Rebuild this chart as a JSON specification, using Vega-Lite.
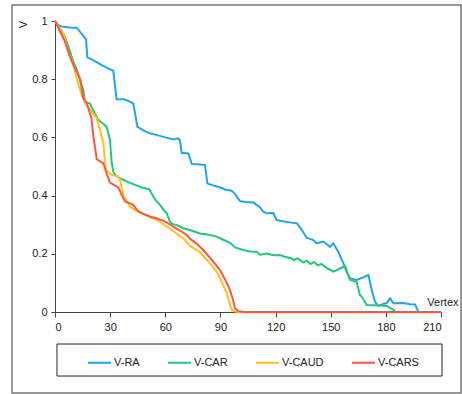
{
  "$schema": "https://vega.github.io/schema/vega-lite/v6.json",
  "width": 386,
  "height": 291,
  "autosize": "none",
  "padding": {"left": 55, "top": 21, "right": 21, "bottom": 82},
  "background": "white",
  "config": {
    "view": {"stroke": null},
    "font": "Liberation Sans",
    "axis": {"labelFont": "Liberation Sans", "titleFont": "Liberation Sans", "labelFontSize": 11, "labelColor": "#222", "domainColor": "#444", "tickColor": "#444", "grid": false}
  },
  "layer": [
    {
      "data": {"values": [{}]},
      "mark": {"type": "rect", "fillOpacity": 0, "stroke": "#777", "strokeWidth": 1.5, "clip": false},
      "encoding": {
        "x": {"datum": -23.4, "type": "quantitative", "scale": {"domain": [0, 210], "nice": false}},
        "x2": {"datum": 220.9},
        "y": {"datum": 1.055, "type": "quantitative", "scale": {"domain": [0, 1], "nice": false}},
        "y2": {"datum": -0.278}
      }
    },
    {
      "data": {"values": [{}]},
      "mark": {"type": "rect", "fillOpacity": 0, "stroke": "#222", "strokeWidth": 1, "clip": false},
      "encoding": {
        "x": {"datum": 1.09, "type": "quantitative"},
        "x2": {"datum": 210.55},
        "y": {"datum": -0.110, "type": "quantitative"},
        "y2": {"datum": -0.220}
      }
    },
    {
      "data": {"values": [
        {"s":"V-RA","x":0,"y":1},{"s":"V-RA","x":2,"y":0.985},{"s":"V-RA","x":3.6,"y":0.981},{"s":"V-RA","x":8,"y":0.978},{"s":"V-RA","x":11.8,"y":0.977},{"s":"V-RA","x":14,"y":0.96},{"s":"V-RA","x":16.9,"y":0.937},{"s":"V-RA","x":17.6,"y":0.875},{"s":"V-RA","x":20,"y":0.868},{"s":"V-RA","x":24.5,"y":0.852},{"s":"V-RA","x":28,"y":0.84},{"s":"V-RA","x":31.7,"y":0.829},{"s":"V-RA","x":33.5,"y":0.731},{"s":"V-RA","x":37.5,"y":0.731},{"s":"V-RA","x":40,"y":0.725},{"s":"V-RA","x":42.6,"y":0.717},{"s":"V-RA","x":44.8,"y":0.637},{"s":"V-RA","x":48,"y":0.624},{"s":"V-RA","x":51.7,"y":0.614},{"s":"V-RA","x":56,"y":0.607},{"s":"V-RA","x":60,"y":0.6},{"s":"V-RA","x":64.4,"y":0.593},{"s":"V-RA","x":67.1,"y":0.597},{"s":"V-RA","x":68,"y":0.59},{"s":"V-RA","x":68.9,"y":0.547},{"s":"V-RA","x":72.5,"y":0.545},{"s":"V-RA","x":74.4,"y":0.509},{"s":"V-RA","x":78,"y":0.508},{"s":"V-RA","x":81.6,"y":0.505},{"s":"V-RA","x":82.9,"y":0.442},{"s":"V-RA","x":86,"y":0.435},{"s":"V-RA","x":89.8,"y":0.428},{"s":"V-RA","x":93,"y":0.42},{"s":"V-RA","x":96.1,"y":0.417},{"s":"V-RA","x":98,"y":0.405},{"s":"V-RA","x":100.7,"y":0.381},{"s":"V-RA","x":104,"y":0.378},{"s":"V-RA","x":107.9,"y":0.376},{"s":"V-RA","x":111.5,"y":0.36},{"s":"V-RA","x":113.3,"y":0.345},{"s":"V-RA","x":115.2,"y":0.339},{"s":"V-RA","x":118.8,"y":0.34},{"s":"V-RA","x":120.6,"y":0.316},{"s":"V-RA","x":124,"y":0.312},{"s":"V-RA","x":127.9,"y":0.308},{"s":"V-RA","x":131.5,"y":0.305},{"s":"V-RA","x":134,"y":0.285},{"s":"V-RA","x":136.9,"y":0.255},{"s":"V-RA","x":140.5,"y":0.247},{"s":"V-RA","x":142.4,"y":0.236},{"s":"V-RA","x":146,"y":0.242},{"s":"V-RA","x":149.6,"y":0.224},{"s":"V-RA","x":151.4,"y":0.236},{"s":"V-RA","x":154.1,"y":0.207},{"s":"V-RA","x":156.9,"y":0.167},{"s":"V-RA","x":158.5,"y":0.14},{"s":"V-RA","x":160.5,"y":0.116},{"s":"V-RA","x":164.1,"y":0.11},{"s":"V-RA","x":167.7,"y":0.119},{"s":"V-RA","x":170.5,"y":0.127},{"s":"V-RA","x":172.3,"y":0.076},{"s":"V-RA","x":174.1,"y":0.035},{"s":"V-RA","x":175.9,"y":0.021},{"s":"V-RA","x":178.6,"y":0.028},{"s":"V-RA","x":180.4,"y":0.03},{"s":"V-RA","x":182.3,"y":0.047},{"s":"V-RA","x":184.1,"y":0.03},{"s":"V-RA","x":189.5,"y":0.031},{"s":"V-RA","x":193.1,"y":0.027},{"s":"V-RA","x":195.9,"y":0.026},{"s":"V-RA","x":197.7,"y":0.0},

        {"s":"V-CAR","x":0,"y":1},{"s":"V-CAR","x":2,"y":0.98},{"s":"V-CAR","x":4.5,"y":0.958},{"s":"V-CAR","x":7.3,"y":0.912},{"s":"V-CAR","x":10,"y":0.86},{"s":"V-CAR","x":12,"y":0.83},{"s":"V-CAR","x":14,"y":0.79},{"s":"V-CAR","x":15.4,"y":0.763},{"s":"V-CAR","x":16.3,"y":0.72},{"s":"V-CAR","x":19,"y":0.717},{"s":"V-CAR","x":21,"y":0.69},{"s":"V-CAR","x":23.6,"y":0.66},{"s":"V-CAR","x":26,"y":0.648},{"s":"V-CAR","x":28.1,"y":0.637},{"s":"V-CAR","x":29.9,"y":0.591},{"s":"V-CAR","x":30.8,"y":0.517},{"s":"V-CAR","x":31.7,"y":0.482},{"s":"V-CAR","x":33,"y":0.47},{"s":"V-CAR","x":35.4,"y":0.459},{"s":"V-CAR","x":38,"y":0.452},{"s":"V-CAR","x":40.8,"y":0.444},{"s":"V-CAR","x":44,"y":0.436},{"s":"V-CAR","x":47.2,"y":0.428},{"s":"V-CAR","x":51.3,"y":0.422},{"s":"V-CAR","x":53.5,"y":0.396},{"s":"V-CAR","x":55,"y":0.383},{"s":"V-CAR","x":57.1,"y":0.368},{"s":"V-CAR","x":59,"y":0.352},{"s":"V-CAR","x":60.8,"y":0.339},{"s":"V-CAR","x":62.6,"y":0.31},{"s":"V-CAR","x":64,"y":0.302},{"s":"V-CAR","x":66.2,"y":0.299},{"s":"V-CAR","x":69.8,"y":0.288},{"s":"V-CAR","x":73.4,"y":0.282},{"s":"V-CAR","x":78.9,"y":0.27},{"s":"V-CAR","x":83,"y":0.266},{"s":"V-CAR","x":88,"y":0.259},{"s":"V-CAR","x":91,"y":0.25},{"s":"V-CAR","x":95.2,"y":0.238},{"s":"V-CAR","x":98,"y":0.222},{"s":"V-CAR","x":102.4,"y":0.213},{"s":"V-CAR","x":106,"y":0.208},{"s":"V-CAR","x":109.7,"y":0.207},{"s":"V-CAR","x":111.5,"y":0.197},{"s":"V-CAR","x":115.2,"y":0.201},{"s":"V-CAR","x":119,"y":0.195},{"s":"V-CAR","x":122.4,"y":0.196},{"s":"V-CAR","x":125,"y":0.19},{"s":"V-CAR","x":128.8,"y":0.184},{"s":"V-CAR","x":130,"y":0.178},{"s":"V-CAR","x":132,"y":0.185},{"s":"V-CAR","x":135,"y":0.17},{"s":"V-CAR","x":137,"y":0.176},{"s":"V-CAR","x":139,"y":0.165},{"s":"V-CAR","x":141,"y":0.172},{"s":"V-CAR","x":143,"y":0.16},{"s":"V-CAR","x":145,"y":0.165},{"s":"V-CAR","x":148,"y":0.151},{"s":"V-CAR","x":151.4,"y":0.139},{"s":"V-CAR","x":154,"y":0.146},{"s":"V-CAR","x":157.8,"y":0.158},{"s":"V-CAR","x":160.5,"y":0.11},{"s":"V-CAR","x":164.1,"y":0.104},{"s":"V-CAR","x":165.9,"y":0.058},{"s":"V-CAR","x":166.9,"y":0.053},{"s":"V-CAR","x":169.6,"y":0.024},{"s":"V-CAR","x":173,"y":0.023},{"s":"V-CAR","x":176.8,"y":0.022},{"s":"V-CAR","x":180.4,"y":0.021},{"s":"V-CAR","x":183,"y":0.012},{"s":"V-CAR","x":185,"y":0.003},

        {"s":"V-CAUD","x":0,"y":1},{"s":"V-CAUD","x":2,"y":0.98},{"s":"V-CAUD","x":4.5,"y":0.958},{"s":"V-CAUD","x":7,"y":0.9},{"s":"V-CAUD","x":10,"y":0.85},{"s":"V-CAUD","x":11.8,"y":0.803},{"s":"V-CAUD","x":14.5,"y":0.746},{"s":"V-CAUD","x":16.3,"y":0.72},{"s":"V-CAUD","x":18,"y":0.705},{"s":"V-CAUD","x":20,"y":0.688},{"s":"V-CAUD","x":22.7,"y":0.666},{"s":"V-CAUD","x":24.5,"y":0.625},{"s":"V-CAUD","x":26.3,"y":0.58},{"s":"V-CAUD","x":27.2,"y":0.517},{"s":"V-CAUD","x":27.7,"y":0.488},{"s":"V-CAUD","x":30,"y":0.475},{"s":"V-CAUD","x":32,"y":0.47},{"s":"V-CAUD","x":34.4,"y":0.465},{"s":"V-CAUD","x":35.4,"y":0.454},{"s":"V-CAUD","x":37.2,"y":0.396},{"s":"V-CAUD","x":38.1,"y":0.39},{"s":"V-CAUD","x":40.8,"y":0.362},{"s":"V-CAUD","x":43,"y":0.352},{"s":"V-CAUD","x":46.2,"y":0.345},{"s":"V-CAUD","x":51.7,"y":0.325},{"s":"V-CAUD","x":55.3,"y":0.318},{"s":"V-CAUD","x":60.8,"y":0.293},{"s":"V-CAUD","x":62.6,"y":0.287},{"s":"V-CAUD","x":66,"y":0.27},{"s":"V-CAUD","x":69.8,"y":0.253},{"s":"V-CAUD","x":73.4,"y":0.228},{"s":"V-CAUD","x":78.9,"y":0.205},{"s":"V-CAUD","x":84,"y":0.17},{"s":"V-CAUD","x":88,"y":0.138},{"s":"V-CAUD","x":91,"y":0.1},{"s":"V-CAUD","x":93.4,"y":0.064},{"s":"V-CAUD","x":96.1,"y":0.007},{"s":"V-CAUD","x":97.9,"y":0.002},{"s":"V-CAUD","x":100,"y":0},{"s":"V-CAUD","x":105,"y":0},

        {"s":"V-CARS","x":0,"y":1},{"s":"V-CARS","x":2,"y":0.975},{"s":"V-CARS","x":5.4,"y":0.929},{"s":"V-CARS","x":8,"y":0.88},{"s":"V-CARS","x":10,"y":0.849},{"s":"V-CARS","x":13.6,"y":0.803},{"s":"V-CARS","x":15.4,"y":0.734},{"s":"V-CARS","x":17.2,"y":0.72},{"s":"V-CARS","x":19,"y":0.683},{"s":"V-CARS","x":19.8,"y":0.666},{"s":"V-CARS","x":20.8,"y":0.608},{"s":"V-CARS","x":22.7,"y":0.525},{"s":"V-CARS","x":24.5,"y":0.518},{"s":"V-CARS","x":26.3,"y":0.511},{"s":"V-CARS","x":28.1,"y":0.476},{"s":"V-CARS","x":29.9,"y":0.445},{"s":"V-CARS","x":32,"y":0.437},{"s":"V-CARS","x":34.4,"y":0.428},{"s":"V-CARS","x":36.3,"y":0.402},{"s":"V-CARS","x":38.1,"y":0.38},{"s":"V-CARS","x":40,"y":0.376},{"s":"V-CARS","x":42.6,"y":0.368},{"s":"V-CARS","x":45.3,"y":0.345},{"s":"V-CARS","x":48,"y":0.337},{"s":"V-CARS","x":51.7,"y":0.328},{"s":"V-CARS","x":55,"y":0.322},{"s":"V-CARS","x":58.9,"y":0.314},{"s":"V-CARS","x":62.6,"y":0.301},{"s":"V-CARS","x":64.4,"y":0.293},{"s":"V-CARS","x":68,"y":0.28},{"s":"V-CARS","x":71.6,"y":0.265},{"s":"V-CARS","x":73.4,"y":0.252},{"s":"V-CARS","x":77,"y":0.235},{"s":"V-CARS","x":80.7,"y":0.213},{"s":"V-CARS","x":85,"y":0.182},{"s":"V-CARS","x":89.8,"y":0.144},{"s":"V-CARS","x":92.5,"y":0.112},{"s":"V-CARS","x":95.2,"y":0.076},{"s":"V-CARS","x":96.7,"y":0.045},{"s":"V-CARS","x":97.9,"y":0.013},{"s":"V-CARS","x":99.7,"y":0.003},{"s":"V-CARS","x":103,"y":0},{"s":"V-CARS","x":210,"y":0}
      ]},
      "mark": {"type": "line", "strokeWidth": 2, "clip": false},
      "encoding": {
        "x": {"field": "x", "type": "quantitative",
          "axis": {"values": [0,30,60,90,120,150,180,210], "title": "Vertex", "titleFontSize": 11, "titleFontWeight": "normal", "titleColor": "#222", "titleAngle": 0, "titleAlign": "right", "titleBaseline": "alphabetic", "titleX": 403, "titleY": -7, "tickSize": 5, "labelPadding": 4}},
        "y": {"field": "y", "type": "quantitative",
          "axis": {"values": [0,0.2,0.4,0.6,0.8,1], "format": "~g", "title": "V", "titleFontSize": 11, "titleFontWeight": "normal", "titleColor": "#222", "titleAngle": -90, "titleAlign": "center", "titleBaseline": "middle", "titleX": -32, "titleY": 3, "tickSize": 4, "labelPadding": 4}},
        "color": {"field": "s", "type": "nominal",
          "scale": {"domain": ["V-RA","V-CAR","V-CAUD","V-CARS"], "range": ["#1FA5E8","#27C77A","#FFC21E","#FF5545"]},
          "legend": {"title": null, "orient": "none", "direction": "horizontal", "columns": 4, "legendX": 32, "legendY": 329, "padding": 0, "symbolType": "stroke", "symbolSize": 529, "symbolStrokeWidth": 2, "labelFontSize": 11, "labelFont": "Liberation Sans", "labelColor": "#222", "labelOffset": 2, "columnPadding": 24}}
      }
    }
  ]
}
